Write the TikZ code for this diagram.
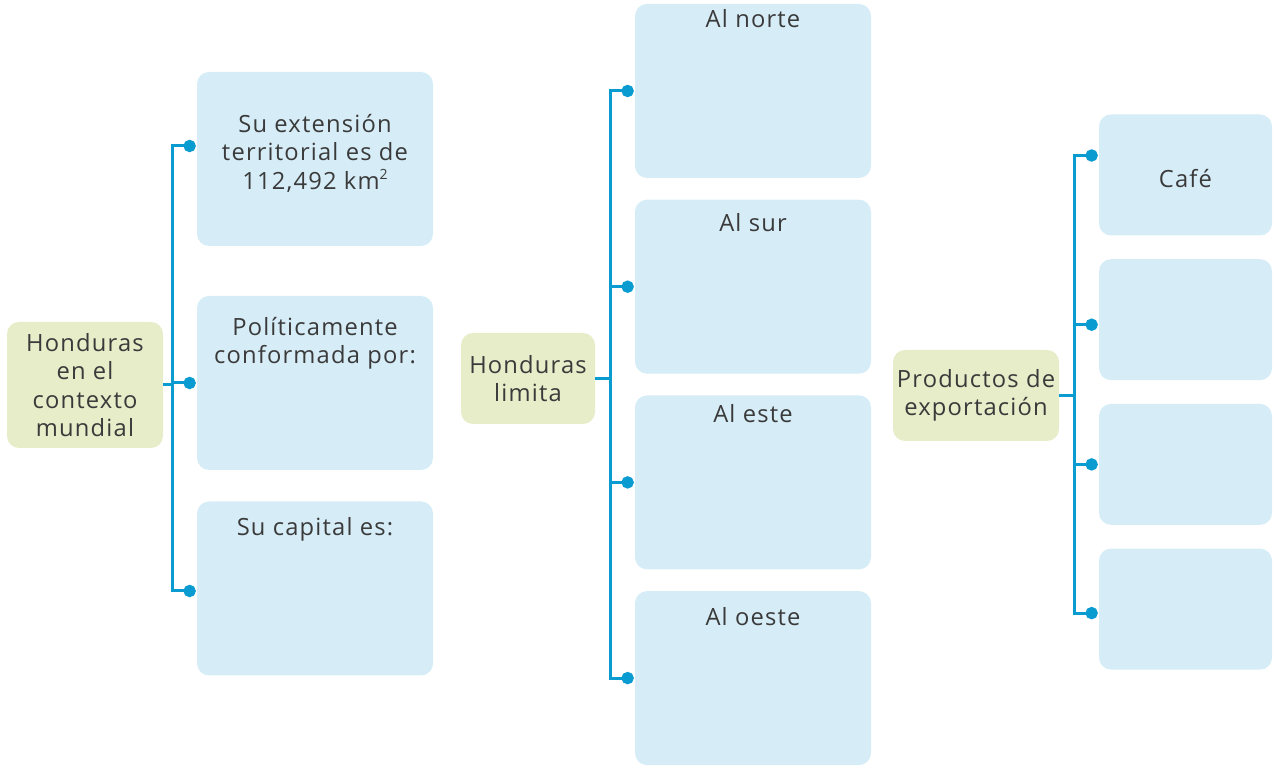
\documentclass[tikz,border=0pt]{standalone}
\usepackage{fontspec}
\setmainfont{Open Sans}[LetterSpace=5]
\usetikzlibrary{positioning,arrows.meta}
\definecolor{boxblue}{HTML}{D6EDF7}
\definecolor{boxgreen}{HTML}{E7ECC9}
\definecolor{linkblue}{HTML}{0A9BD0}
\definecolor{textgray}{HTML}{3A3A3A}
\begin{document}
\begin{tikzpicture}[
  hub/.style={fill=boxgreen, rounded corners=0.24cm, align=center, inner sep=0pt},
  card/.style={fill=boxblue, rounded corners=0.24cm, align=center, inner sep=0pt,
    minimum width=4.72cm, minimum height=3.48cm},
  smallcard/.style={card, minimum width=3.46cm, minimum height=2.42cm},
  toptext/.style 2 args={label={[anchor=north, align=center, inner sep=0pt, yshift=-#1]north:#2}},
  link/.style={draw=linkblue, line width=1.7pt, -{Circle[length=7pt]}},
  every node/.style={text=textgray, font=\fontsize{13.5}{16.2}\selectfont},
]
\useasboundingbox (0,0) rectangle (25.5,15.34);
% Define the nodes
\node (mundo) [hub, minimum width=3.12cm, minimum height=2.52cm] at (1.70,7.64) {Honduras\\en el\\contexto\\mundial};
\node (extension) [card, toptext={0.84cm}{Su extensión\\territorial es de\\112,492 km\raisebox{0.4em}{\fontsize{8}{8}\selectfont 2}}] at (6.30,12.16) {};
\node (politica) [card, toptext={0.42cm}{Políticamente\\conformada por:}] at (6.30,7.68) {};
\node (capital) [card, toptext={0.32cm}{Su capital es:}] at (6.30,3.57) {};

\node (limita) [hub, minimum width=2.68cm, minimum height=1.82cm] at (10.56,7.77) {Honduras\\limita};
\node (norte) [card, toptext={0.1cm}{Al norte}] at (15.06,13.52) {};
\node (sur) [card, toptext={0.28cm}{Al sur}, below=0.42cm of norte] {};
\node (este) [card, toptext={0.18cm}{Al este}, below=0.42cm of sur] {};
\node (oeste) [card, toptext={0.32cm}{Al oeste}, below=0.42cm of este] {};

\node (productos) [hub, minimum width=3.32cm, minimum height=1.82cm] at (19.52,7.43) {Productos de\\exportación};
\node (cafe) [smallcard, toptext={1.1cm}{Café}] at (23.71,11.84) {};
\node (prod2) [smallcard, below=0.46cm of cafe] {};
\node (prod3) [smallcard, below=0.46cm of prod2] {};
\node (prod4) [smallcard, below=0.46cm of prod3] {};

% Connect the nodes
\draw[link] (mundo.east) -- +(0.18,0) |- ([xshift=-0.5pt,yshift=0.26cm]extension.west);
\draw[link] (mundo.east) -- +(0.18,0) |- ([xshift=-0.5pt]politica.west);
\draw[link] (mundo.east) -- +(0.18,0) |- ([xshift=-0.5pt,yshift=-0.05cm]capital.west);

\draw[link] (limita.east) -- +(0.3,0) |- ([xshift=-0.5pt]norte.west);
\draw[link] (limita.east) -- +(0.3,0) |- ([xshift=-0.5pt]sur.west);
\draw[link] (limita.east) -- +(0.3,0) |- ([xshift=-0.5pt]este.west);
\draw[link] (limita.east) -- +(0.3,0) |- ([xshift=-0.5pt]oeste.west);

\draw[link] (productos.east) -- +(0.3,0) |- ([xshift=-0.5pt,yshift=0.39cm]cafe.west);
\draw[link] (productos.east) -- +(0.3,0) |- ([xshift=-0.5pt,yshift=-0.1cm]prod2.west);
\draw[link] (productos.east) -- +(0.3,0) |- ([xshift=-0.5pt]prod3.west);
\draw[link] (productos.east) -- +(0.3,0) |- ([xshift=-0.5pt,yshift=-0.08cm]prod4.west);
\end{tikzpicture}
\end{document}
